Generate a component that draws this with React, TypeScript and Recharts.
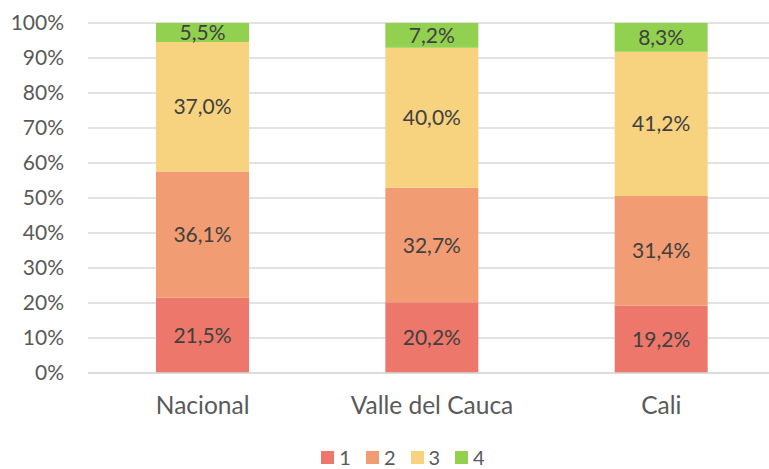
import React from "react";
import { BarChart, Bar, XAxis, YAxis, CartesianGrid, Legend, LabelList } from "recharts";

const categories = ["Nacional", "Valle del Cauca", "Cali"];
const s1 = [21.5, 20.2, 19.2];
const s2 = [36.1, 32.7, 31.4];
const s3 = [37.0, 40.0, 41.2];
const s4 = [5.5, 7.2, 8.3];
const seriesNames = ["1", "2", "3", "4"];
const colors = ["#EC776A", "#F19C72", "#F7D27F", "#92D050"];
const yTicks = [0, 10, 20, 30, 40, 50, 60, 70, 80, 90, 100];

const data = categories.map((c, i) => ({ name: c, s1: s1[i], s2: s2[i], s3: s3[i], s4: s4[i] }));
const keys = ["s1", "s2", "s3", "s4"];

const FONT = "Lato, 'Open Sans', sans-serif";
const fmt = (v: any) => `${Number(v).toFixed(1).replace(".", ",")}%`;

const LegendContent = (props: any) => {
  const payload = props.payload || [];
  return (
    <div style={{ display: "flex", justifyContent: "center", alignItems: "center", fontFamily: FONT, paddingLeft: 30, height: 20 }}>
      {payload.map((p: any, i: number) => (
        <div key={i} style={{ display: "flex", alignItems: "center", marginLeft: i === 0 ? 0 : 15 }}>
          <svg width={13} height={13} style={{ marginRight: 5 }}>
            <rect x={0} y={0} width={13} height={13} fill={p.color} />
          </svg>
          <span style={{ color: "#595959", fontSize: 20, lineHeight: "20px" }}>{p.value}</span>
        </div>
      ))}
    </div>
  );
};

export default function App() {
  return (
    <div style={{ position: "absolute", left: 0, top: 0, width: 769, height: 469, overflow: "hidden", fontFamily: FONT }}>
      <BarChart width={776} height={469} data={data} margin={{ top: 23, right: 0, left: 0, bottom: 0 }} barSize={93}>
        <CartesianGrid horizontal vertical={false} stroke="#D9D9D9" strokeWidth={1.3} />
        <XAxis
          dataKey="name"
          tickLine={false}
          axisLine={{ stroke: "#D9D9D9", strokeWidth: 1.3 }}
          tickSize={0}
          tickMargin={24}
          height={76}
          tick={{ fill: "#595959", fontSize: 24.5, fontFamily: FONT }}
        />
        <YAxis
          type="number"
          domain={[0, 100]}
          ticks={yTicks}
          allowDataOverflow
          interval={0}
          tickFormatter={(v: number) => `${v}%`}
          tickLine={false}
          axisLine={false}
          tickSize={0}
          tickMargin={24}
          width={88}
          tick={{ fill: "#595959", fontSize: 21, fontFamily: FONT }}
        />
        <Legend
          verticalAlign="bottom"
          align="center"
          height={20}
          content={<LegendContent />}
          wrapperStyle={{ top: 447, left: 0, width: 776, height: 20 }}
        />
        {keys.map((k, i) => (
          <Bar key={k} dataKey={k} name={seriesNames[i]} stackId="a" fill={colors[i]} isAnimationActive={false}>
            <LabelList dataKey={k} position="center" formatter={fmt} fill="#404040" fontSize={21} fontFamily={FONT} />
          </Bar>
        ))}
      </BarChart>
    </div>
  );
}
